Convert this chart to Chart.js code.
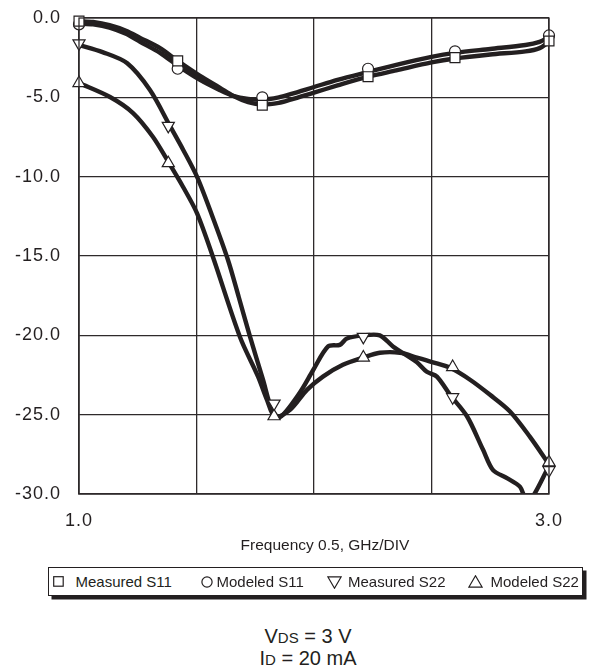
<!DOCTYPE html>
<html>
<head>
<meta charset="utf-8">
<script src="https://cdn.jsdelivr.net/npm/chart.js@4.4.1/dist/chart.umd.min.js"></script>
<style>
  html, body { margin: 0; padding: 0; background: #fff; }
  body { width: 594px; height: 666px; position: relative; overflow: hidden;
         font-family: "Liberation Sans", Arial, Helvetica, sans-serif; color: #231f20; }
  #wrap { position: absolute; left: 0; top: 0; width: 594px; height: 560px; }
  #xtitle { position: absolute; left: 175px; width: 300px; top: 536px; text-align: center;
            font-size: 15.5px; line-height: 18px; white-space: nowrap; }
  #legend { position: absolute; left: 48px; top: 567px; width: 535px; height: 28.5px;
            border: 1.3px solid #231f20; box-shadow: 3.5px 3.5px 0 #231f20; box-sizing: border-box; }
  .sym { position: absolute; }
  .lab { position: absolute; top: 5px; font-size: 15px; line-height: 17px; white-space: nowrap; }
  .note { position: absolute; left: 158px; width: 300px; text-align: center; font-size: 20px; line-height: 23px; }
  .note small { font-size: 15px; }
</style>
</head>
<body>
<div id="wrap"><canvas id="c" width="594" height="560"></canvas></div>

<div id="xtitle">Frequency 0.5, GHz/DIV</div>

<div id="legend">
  <svg class="sym" style="left:4px;top:8px" width="11" height="11"><rect x="0.7" y="0.7" width="9.5" height="9.5" fill="#fff" stroke="#231f20" stroke-width="1.2"/></svg>
  <div class="lab" style="left:26.5px">Measured S11</div>
  <svg class="sym" style="left:151.5px;top:7.5px" width="12" height="12"><circle cx="6" cy="6" r="5.1" fill="#fff" stroke="#231f20" stroke-width="1.2"/></svg>
  <div class="lab" style="left:167.5px">Modeled S11</div>
  <svg class="sym" style="left:278px;top:7.5px" width="15" height="13"><polygon points="0.8,0.8 14.2,0.8 7.5,12.2" fill="#fff" stroke="#231f20" stroke-width="1.2"/></svg>
  <div class="lab" style="left:299px">Measured S22</div>
  <svg class="sym" style="left:419px;top:6.5px" width="15" height="13"><polygon points="0.8,12.2 14.2,12.2 7.5,0.8" fill="#fff" stroke="#231f20" stroke-width="1.2"/></svg>
  <div class="lab" style="left:441.5px">Modeled S22</div>
</div>

<div class="note" style="top:625px">V<small>DS</small> = 3 V</div>
<div class="note" style="top:647px">I<small>D</small> = 20 mA</div>

<script>
// Frequency in GHz, return loss in dB.
const freqS11 = [1.0, 1.06, 1.13, 1.2, 1.26, 1.345, 1.42, 1.515, 1.6, 1.655, 1.72, 1.78, 1.85, 1.9, 2.0, 2.1, 2.23, 2.35, 2.5, 2.6, 2.75, 2.9, 2.96, 3.0];
const measS11 = [-0.2, -0.25, -0.45, -0.8, -1.25, -1.9, -2.7, -3.65, -4.4, -4.9, -5.3, -5.45, -5.35, -5.15, -4.7, -4.25, -3.7, -3.3, -2.8, -2.55, -2.3, -2.1, -1.9, -1.5];
const modS11  = [-0.35, -0.4, -0.6, -1.0, -1.5, -2.2, -3.0, -3.9, -4.55, -4.9, -5.1, -5.15, -5.0, -4.8, -4.35, -3.9, -3.4, -2.95, -2.45, -2.2, -1.95, -1.7, -1.5, -1.2];

const freqMeasS22 = [1.0, 1.1, 1.204, 1.302, 1.387, 1.443, 1.502, 1.565, 1.634, 1.68, 1.728, 1.783, 1.821, 1.855, 1.94, 1.996, 2.06, 2.11, 2.14, 2.21, 2.28, 2.336, 2.438, 2.48, 2.523, 2.579, 2.651, 2.719, 2.762, 2.821, 2.877, 2.9, 2.925, 2.996];
const measS22     = [-1.7, -2.15, -2.84, -4.54, -6.8, -8.3, -10.0, -12.4, -15.25, -17.6, -20.1, -22.8, -24.7, -25.15, -23.6, -22.2, -20.7, -20.6, -20.2, -20.0, -20.0, -20.7, -21.7, -22.3, -22.6, -23.75, -25.1, -27.2, -28.5, -29.0, -29.55, -30.3, -30.3, -28.35];

const freqModS22 = [1.0, 1.132, 1.23, 1.315, 1.383, 1.443, 1.502, 1.57, 1.685, 1.762, 1.8, 1.834, 1.898, 1.97, 2.038, 2.123, 2.209, 2.28, 2.366, 2.438, 2.506, 2.579, 2.664, 2.749, 2.834, 2.919, 2.996];
const modS22     = [-4.1, -4.98, -5.99, -7.5, -9.14, -10.65, -12.3, -15.06, -20.1, -22.6, -24.07, -25.14, -24.7, -23.44, -22.6, -21.86, -21.4, -21.1, -21.1, -21.4, -21.7, -22.05, -22.8, -23.75, -24.8, -26.4, -28.04];

// Marker positions along each trace
const markFreqS11 = [1.0, 1.42, 1.78, 2.23, 2.6, 3.0];
const markMeasS11 = [-0.2, -2.7, -5.5, -3.7, -2.5, -1.45];
const markModS11  = [-0.4, -3.2, -5.0, -3.2, -2.1, -1.1];
const markFreqS22 = [1.0, 1.38, 1.83, 2.21, 2.59, 3.0];
const markMeasS22 = [-1.6, -6.8, -24.3, -20.1, -23.9, -28.5];
const markModS22  = [-4.1, -9.15, -25.1, -21.4, -22.0, -28.0];

const yTicks = [0, -5, -10, -15, -20, -25, -30];
const xLabelled = [1.0, 3.0];

const INK = '#231f20';
const GRID = '#2e2a2b';
const FONT = '"Liberation Sans", Arial, Helvetica, sans-serif';

const pts = (xs, ys) => xs.map((x, i) => ({ x, y: ys[i] }));

const trace = (label, xs, ys) => ({
  label, data: pts(xs, ys), showLine: true, borderColor: INK, borderWidth: 4.4,
  pointRadius: 0, tension: 0.3, order: 2,
  clip: { left: 4, right: 4, top: 4, bottom: 0 }
});

const marks = (label, xs, ys, style, radius, rotation) => ({
  label, data: pts(xs, ys), showLine: false, pointStyle: style, pointRadius: radius,
  pointRotation: rotation || 0, pointBackgroundColor: '#fff', pointBorderColor: INK,
  pointBorderWidth: 1.2, order: 1, clip: false
});

// slightly tracked-out tick lettering
const spacing = chart => { chart.ctx.letterSpacing = '1px'; };

new Chart(document.getElementById('c'), {
  type: 'scatter',
  data: {
    datasets: [
      trace('Measured S11 trace', freqS11, measS11),
      trace('Modeled S11 trace', freqS11, modS11),
      trace('Measured S22 trace', freqMeasS22, measS22),
      trace('Modeled S22 trace', freqModS22, modS22),
      marks('Measured S11', markFreqS11, markMeasS11, 'rect', 7),
      marks('Modeled S11', markFreqS11, markModS11, 'circle', 5.5),
      marks('Measured S22', markFreqS22, markMeasS22, 'triangle', 7, 180),
      marks('Modeled S22', markFreqS22, markModS22, 'triangle', 7)
    ]
  },
  options: {
    responsive: false,
    animation: false,
    devicePixelRatio: 1,
    layout: { padding: { top: 18, right: 45, left: 0, bottom: 0 } },
    plugins: { legend: { display: false }, tooltip: { enabled: false } },
    scales: {
      x: {
        type: 'linear', min: 1, max: 3,
        afterFit: s => { s.height = 66; s.paddingLeft = 0; s.paddingRight = 0; },
        ticks: {
          stepSize: 0.5, padding: 16, color: INK, font: { family: FONT, size: 18 },
          maxRotation: 0,
          callback: v => xLabelled.some(t => Math.abs(t - v) < 1e-6) ? v.toFixed(1) : ''
        },
        grid: { color: GRID, lineWidth: 1.3, drawTicks: false },
        border: { display: true, color: GRID, width: 1.3 }
      },
      y: {
        type: 'linear', min: -30, max: 0,
        afterFit: s => { s.width = 79; s.paddingTop = 0; s.paddingBottom = 0; },
        afterBuildTicks: s => { s.ticks = yTicks.map(v => ({ value: v })); },
        ticks: { padding: 18, color: INK, font: { family: FONT, size: 18 },
                 callback: v => v.toFixed(1) },
        grid: { color: GRID, lineWidth: 1.3, drawTicks: false },
        border: { display: true, color: GRID, width: 1.3 }
      }
    }
  },
  plugins: [{
    id: 'frame',
    beforeLayout: spacing,
    beforeDraw: spacing,
    // plot frame on the right and top edges
    afterDraw(chart) {
      const { ctx, chartArea: a } = chart;
      ctx.save();
      ctx.strokeStyle = GRID; ctx.lineWidth = 1.3;
      ctx.strokeRect(a.left, a.top, a.right - a.left, a.bottom - a.top);
      ctx.restore();
    }
  }]
});
</script>
</body>
</html>
